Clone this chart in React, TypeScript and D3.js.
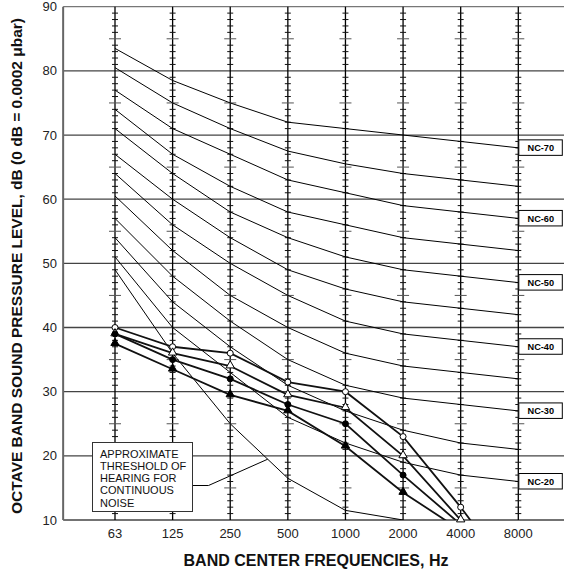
import React from "react";
import * as d3 from "d3";

const FREQS = ["63", "125", "250", "500", "1000", "2000", "4000", "8000"];
const Y_TICKS = [10, 20, 30, 40, 50, 60, 70, 80, 90];

const NC_NAMES = ["NC-20", "NC-25", "NC-30", "NC-35", "NC-40", "NC-45", "NC-50", "NC-55", "NC-60", "NC-65", "NC-70"];
const NC_20 = [51, 40, 33, 26, 22, 19, 17, 16];
const NC_25 = [54, 44, 37, 31, 27, 24, 22, 21];
const NC_30 = [57, 48, 41, 35, 31, 29, 28, 27];
const NC_35 = [60.5, 52, 45, 40, 36, 34, 33, 32];
const NC_40 = [64, 56, 50, 45, 41, 39, 38, 37];
const NC_45 = [67, 60, 54, 49, 46, 44, 43, 42];
const NC_50 = [71, 64, 58, 54, 51, 49, 48, 47];
const NC_55 = [74, 67, 62, 58, 56, 54, 53, 52];
const NC_60 = [77, 71, 67, 63, 61, 59, 58, 57];
const NC_65 = [80.5, 75, 71, 67.5, 65.5, 64, 63, 62];
const NC_70 = [83.5, 78.5, 75, 72, 71, 70, 69, 68];
const NC_LABELED = ["NC-20", "NC-30", "NC-40", "NC-50", "NC-60", "NC-70"];

const THRESHOLD = [49, 36, 25, 16.5, 11.5, 10];
const THRESHOLD_TEXT = ["APPROXIMATE", "THRESHOLD OF", "HEARING FOR", "CONTINUOUS", "NOISE"];

const OPEN_CIRCLE = [40, 37, 36, 31.5, 30, 23, 12, 0];
const OPEN_TRIANGLE = [39, 36, 34, 29.5, 27.5, 20, 10];
const FILLED_CIRCLE = [39, 35, 32, 28, 25, 17, 9.3];
const FILLED_TRIANGLE = [37.5, 33.5, 29.5, 27, 21.5, 14.3, 8.4];

const W = 564;
const H = 572;

export default function App() {
  const x = d3.scaleLinear().domain([0, 7]).range([115, 518.3]);
  const y = d3.scaleLinear().domain([10, 90]).range([520, 6.7]);
  const left = x(-0.9);
  const right = x(7.9);
  const top = y(90);
  const bottom = y(10);

  const line = d3
    .line<number>()
    .x((_, i) => x(i))
    .y((d) => y(d));

  const ncSeries = [NC_20, NC_25, NC_30, NC_35, NC_40, NC_45, NC_50, NC_55, NC_60, NC_65, NC_70];

  const dbs = d3.range(10, 91);

  const series = [
    { vals: OPEN_CIRCLE, kind: "circle", fill: "#fff" },
    { vals: FILLED_TRIANGLE, kind: "triangle", fill: "#000" },
    { vals: OPEN_TRIANGLE, kind: "triangle", fill: "#fff" },
    { vals: FILLED_CIRCLE, kind: "circle", fill: "#000" },
  ];

  const triPath = d3.symbol(d3.symbolTriangle, 30)();

  // leader line anchor on threshold curve
  const t = 0.65;
  const anchorX = x(2 + t);
  const anchorY = y(THRESHOLD[2] + (THRESHOLD[3] - THRESHOLD[2]) * t);

  const boxX = 92.5;
  const boxY = 442.5;
  const boxW = 100;
  const boxH = 69;

  return (
    <svg
      width={W}
      height={H}
      style={{ position: "absolute", left: 0, top: 0, background: "#fff" }}
      fontFamily="'Liberation Sans', Arial, sans-serif"
    >
      <defs>
        <clipPath id="plotclip">
          <rect x={left} y={top} width={right - left} height={bottom - top} />
        </clipPath>
      </defs>
      <rect width={W} height={H} fill="#fff" />

      {/* horizontal grid */}
      {Y_TICKS.map((v) => (
        <line key={"h" + v} x1={left} x2={right} y1={y(v)} y2={y(v)} stroke={v === 90 ? "#777" : "#444"} strokeWidth={1.3} />
      ))}
      {/* left border */}
      <line x1={left} x2={left} y1={top} y2={bottom} stroke="#666" strokeWidth={2} />

      {/* frequency columns with dB ticks */}
      {FREQS.map((f, i) => (
        <g key={"c" + f}>
          <line x1={x(i)} x2={x(i)} y1={top} y2={bottom} stroke="#000" strokeWidth={1.3} />
          {dbs
            .filter((d) => d % 10 !== 0)
            .map((d) => {
              const half = d % 5 === 0 ? 6 : 3;
              return (
                <line
                  key={d}
                  x1={x(i) - half}
                  x2={x(i) + half}
                  y1={y(d)}
                  y2={y(d)}
                  stroke={d % 5 === 0 ? "#555" : "#111"}
                  strokeWidth={1}
                />
              );
            })}
        </g>
      ))}

      <g clipPath="url(#plotclip)">
        {/* NC curves */}
        {ncSeries.map((vals, k) => (
          <path key={NC_NAMES[k]} d={line(vals) || ""} fill="none" stroke="#000" strokeWidth={1} />
        ))}
        {/* threshold curve */}
        <path d={line(THRESHOLD) || ""} fill="none" stroke="#000" strokeWidth={1} />
        {/* measured spectra */}
        {series.map((s, k) => (
          <path key={"s" + k} d={line(s.vals) || ""} fill="none" stroke="#111" strokeWidth={1.8} />
        ))}
      </g>

      {/* markers */}
      {series.map((s, k) => (
        <g key={"m" + k}>
          {s.vals.map((v, i) =>
            v < 10 ? null : s.kind === "circle" ? (
              <circle key={i} cx={x(i)} cy={y(v)} r={3} fill={s.fill} stroke="#000" strokeWidth={1} />
            ) : (
              <path key={i} d={triPath || ""} transform={`translate(${x(i)},${y(v) - 0.5})`} fill={s.fill} stroke="#000" strokeWidth={1} />
            )
          )}
        </g>
      ))}

      {/* NC labels */}
      {NC_NAMES.map((name, k) =>
        NC_LABELED.includes(name) ? (
          <g key={"l" + name}>
            <rect x={x(7) + 0.5} y={y(ncSeries[k][7]) - 8} width={43.5} height={15.5} fill="#fff" stroke="#000" strokeWidth={1} />
            <text x={x(7) + 22.5} y={y(ncSeries[k][7]) + 3.3} textAnchor="middle" fontSize={9.2} fontWeight="bold">
              {name}
            </text>
          </g>
        ) : null
      )}

      {/* threshold annotation */}
      <polyline
        points={`${boxX + boxW},${boxY + 43} ${boxX + boxW + 16},${boxY + 43} ${anchorX},${anchorY}`}
        fill="none"
        stroke="#000"
        strokeWidth={1}
      />
      <rect x={boxX} y={boxY} width={boxW} height={boxH} fill="#fff" stroke="#333" strokeWidth={1} />
      {THRESHOLD_TEXT.map((s, i) => (
        <text key={s} x={boxX + 7.5} y={boxY + 15 + i * 12.3} fontSize={11} fill="#111">
          {s}
        </text>
      ))}

      {/* axes labels */}
      {Y_TICKS.map((v) => (
        <text key={"yt" + v} x={57} y={y(v) + 4.5} textAnchor="end" fontSize={13} fill="#222">
          {v}
        </text>
      ))}
      {FREQS.map((f, i) => (
        <text key={"xt" + f} x={x(i)} y={538} textAnchor="middle" fontSize={13} fill="#222">
          {f}
        </text>
      ))}
      <text x={316} y={566} textAnchor="middle" fontSize={16} fontWeight="bold" fill="#111">
        BAND CENTER FREQUENCIES, Hz
      </text>
      <text
        transform="translate(22,266) rotate(-90)"
        textAnchor="middle"
        fontSize={15.5}
        fontWeight="bold"
        fill="#111"
      >
        OCTAVE BAND SOUND PRESSURE LEVEL, dB (0 dB = 0.0002 μbar)
      </text>
    </svg>
  );
}
